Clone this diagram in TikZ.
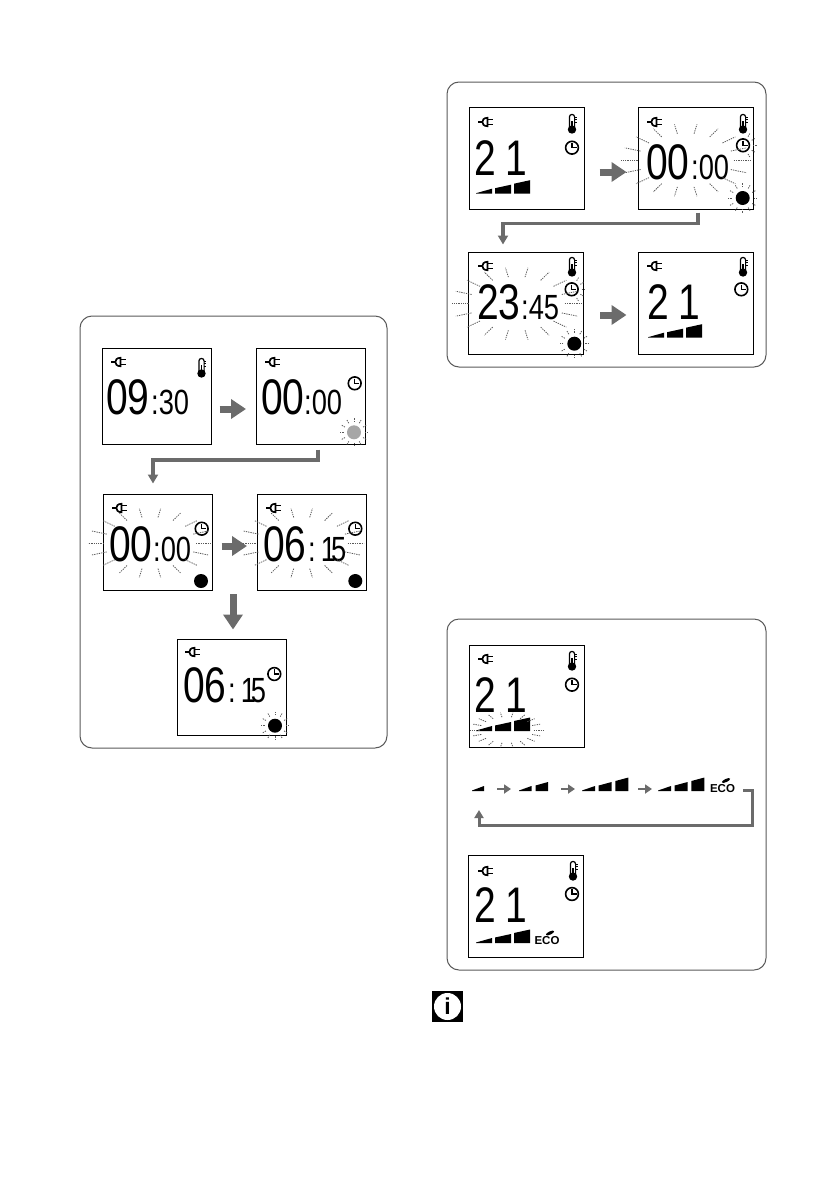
\documentclass[tikz,border=0pt]{standalone}
\usepackage{xcolor}
\usepackage{fontspec}
\usetikzlibrary{arrows.meta,positioning}
\setmainfont{Liberation Sans}
\newfontfamily\lcdfont[FakeStretch=0.78]{Liberation Sans}
\definecolor{arrowgray}{gray}{0.42}
\definecolor{framegray}{gray}{0.35}

% one wedge-shaped power bar per step
\newcommand{\lcdbars}[5]{%
  \foreach \n/\ha/\hb in {0/0.5/5,1/5.5/9,2/10/13.5}{%
    \ifnum\n<#5\relax
      \fill ({#1+\n*(#3+#4)},#2) -- ++(#3,0) -- ++(0,-\hb) -- ({#1+\n*(#3+#4)},{#2-\ha}) -- cycle;
    \fi
  }%
}
% blinking rays on an ellipse
\newcommand{\lcdglow}[5]{%
  \foreach \a in {#5}{%
    \draw[rayline] ({#1+#3*cos(\a)},{#2+#4*sin(\a)}) -- ({#1+1.35*#3*cos(\a)},{#2+1.35*#4*sin(\a)});
  }%
}

\begin{document}
\begin{tikzpicture}[
    x=1pt,y=-1pt,
    >=Stealth,
    panelbox/.style={draw=framegray,line width=1pt,rounded corners=12pt},
    screena/.style={draw,line width=1pt,minimum width=109pt,minimum height=96pt,inner sep=0pt},
    screenb/.style={draw,line width=1pt,minimum width=115pt,minimum height=102pt,inner sep=0pt},
    lcdbig/.style={anchor=base west,inner sep=0pt,font=\lcdfont\fontsize{50}{50}\selectfont},
    lcdsmall/.style={anchor=base west,inner sep=0pt,font=\lcdfont\fontsize{35}{35}\selectfont},
    ecotext/.style={inner sep=0pt,font=\bfseries\fontsize{11.5}{11.5}\selectfont},
    rayline/.style={draw=black!65,line width=0.8pt,dash pattern=on 1.3pt off 1pt},
    fatarrow/.style={draw=arrowgray,line width=7pt,-{Triangle[length=15pt,width=19pt]}},
    elbowarrow/.style={draw=arrowgray,line width=3.5pt,-{Triangle[length=9pt,width=10pt]}},
    smallarrow/.style={draw=arrowgray,line width=2.8pt,-{Triangle[length=7pt,width=9pt]}},
    cyclearrow/.style={draw=arrowgray,line width=3pt,-{Triangle[length=8pt,width=9pt]}},
    lcddot/.style={circle,fill=black,minimum size=14pt,inner sep=0pt},
    plug/.pic={
        \draw[line width=1.2pt] (0,0) -- (3.5,0);
        \draw[line width=1.7pt,fill=white] (9.5,-4.2) .. controls (2.5,-4.2) and (2.5,4.2) .. (9.5,4.2) -- cycle;
        \draw[line width=1.6pt] (9.5,-2.6) -- (15,-2.6) (9.5,2.6) -- (15,2.6);
    },
    therm/.pic={
        \draw[line width=1.2pt,fill=white] (-2.6,-2) -- (-2.6,-12.5) arc[start angle=180,end angle=360,radius=2.6] -- (2.6,-2);
        \fill (0,0) circle[radius=4.2];
        \draw[line width=1.5pt] (0,0) -- (0,-9);
        \draw[line width=0.8pt] (2.6,-12.5) -- (4.6,-12.5) (2.6,-10) -- (4.6,-10) (2.6,-7.5) -- (4.6,-7.5);
    },
    lcdclock/.pic={
        \draw[line width=1.6pt] (0,0) circle[radius=6.4];
        \draw[line width=1.3pt] (0,-4.6) -- (0,0) -- (4.6,0);
    }
]
\useasboundingbox (0,0) rectangle (839,1191);

% left panel
\draw[panelbox] (80,316) rectangle (387,748);
\node[screena] (scrA) at (156.5,396) {};
\node[screena] (scrB) at (311,396) {};
\node[screena] (scrC) at (157.5,542) {};
\node[screena] (scrD) at (312,542) {};
\node[screena] (scrE) at (231.5,687) {};

\pic at (111,362) {plug};
\pic at (265,362) {plug};
\pic at (112,508) {plug};
\pic at (266,508) {plug};
\pic at (185,652) {plug};
\pic at (201.5,373.5) {therm};
\pic at (354.7,383.3) {lcdclock};
\pic at (201.7,528.7) {lcdclock};
\pic at (355.3,528.7) {lcdclock};
\pic at (274.3,674) {lcdclock};

\node[lcdbig] (timeA) at (106,414) {09};
\node[lcdsmall] (timeAb) at (151,414) {:30};
\node[lcdbig] (timeB) at (261,414) {00};
\node[lcdsmall] (timeBb) at (304,414) {:00};
\node[lcdbig] (timeC) at (109,561) {00};
\node[lcdsmall] (timeCb) at (153,561) {:00};
\node[lcdbig] (timeD) at (263,561) {06};
\node[lcdsmall] (timeDb) at (308,561) {:\kern5pt 1\kern-5pt 5};
\node[lcdbig] (timeE) at (183,702) {06};
\node[lcdsmall] (timeEb) at (228,702) {:\kern5pt 1\kern-5pt 5};

\node[lcddot,fill=black!35] (dotB) at (354,432.3) {};
\node[lcddot] (dotC) at (201,581) {};
\node[lcddot] (dotD) at (355.3,581) {};
\node[lcddot] (dotE) at (275,725.7) {};

\lcdglow{150}{543}{46}{26}{0,20,...,340}
\lcdglow{301.7}{543}{46}{26}{0,20,...,340}
\lcdglow{354}{432.3}{10.5}{10.5}{0,30,...,330}
\lcdglow{275}{725.7}{10.5}{10.5}{0,30,...,330}

\draw[fatarrow,shorten <=8pt,shorten >=10pt] ([yshift=-13pt]scrA.east) -- ([yshift=-13pt]scrB.west);
\draw[elbowarrow,shorten <=5pt] ([xshift=7pt]scrB.south) -- ++(0,15.5) -| ([xshift=-4.5pt,yshift=10pt]scrC.north);
\draw[fatarrow,shorten <=9pt,shorten >=10pt] ([yshift=-4pt]scrC.east) -- ([yshift=-4pt]scrD.west);
\coordinate (downStart) at (233,594);
\draw[fatarrow] (downStart) -- ([xshift=1.5pt,yshift=9pt]scrE.north);

% upper right panel
\draw[panelbox] (447,82) rectangle (766,367);
\node[screenb] (scrF) at (526.5,158) {};
\node[screenb] (scrG) at (695.5,158) {};
\node[screenb] (scrH) at (526,303) {};
\node[screenb] (scrI) at (695.5,303) {};

\pic at (478,122) {plug};
\pic at (647,122) {plug};
\pic at (478,266) {plug};
\pic at (647,266) {plug};
\pic at (572,129.5) {therm};
\pic at (743,129.5) {therm};
\pic at (572,272.5) {therm};
\pic at (743,272.5) {therm};
\pic at (572,147.7) {lcdclock};
\pic at (743,145.3) {lcdclock};
\pic at (571.7,289.3) {lcdclock};
\pic at (741.3,289.3) {lcdclock};

\node[lcdbig] (tempF) at (474,175) {2\kern10pt 1};
\node[lcdbig] (timeG) at (646,179) {00};
\node[lcdsmall] (timeGb) at (691,179) {:00};
\node[lcdbig] (timeH) at (477,319) {23};
\node[lcdsmall] (timeHb) at (521,319) {:45};
\node[lcdbig] (tempI) at (647,319) {2\kern10pt 1};
\lcdbars{476}{193.7}{16}{3}{3}
\lcdbars{648}{337.7}{16}{3}{3}

\node[lcddot] (dotG) at (742.7,198) {};
\node[lcddot] (dotH) at (574.3,343.7) {};

\lcdglow{685.7}{160.3}{48}{27}{0,20,...,340}
\lcdglow{516.7}{303.7}{48}{27}{0,20,...,340}
\lcdglow{742.7}{198}{11}{11}{0,30,...,330}
\lcdglow{574.3}{343.7}{11}{11}{0,30,...,330}
\lcdglow{743}{145.3}{10}{10}{-60,-30,...,60}
\lcdglow{571.7}{289.3}{10}{10}{-60,-30,...,60}

\draw[fatarrow,shorten <=15pt,shorten >=11pt] ([yshift=-14pt]scrF.east) -- ([yshift=-14pt]scrG.west);
\draw[elbowarrow,shorten <=3pt] ([xshift=2.5pt]scrG.south) -- ++(0,14) -| ([xshift=-23pt,yshift=7pt]scrH.north);
\draw[fatarrow,shorten <=16pt,shorten >=11pt] ([yshift=-12pt]scrH.east) -- ([yshift=-12pt]scrI.west);

% lower right panel
\draw[panelbox] (447,619) rectangle (766,970);
\node[screenb] (scrJ) at (526.5,696) {};
\node[screenb] (scrK) at (526,906.5) {};

\pic at (478,659) {plug};
\pic at (478,871) {plug};
\pic at (572,666.5) {therm};
\pic at (573,876.5) {therm};
\pic at (572,684.7) {lcdclock};
\pic at (572,894) {lcdclock};

\node[lcdbig] (tempJ) at (474,712) {2\kern10pt 1};
\node[lcdbig] (tempK) at (474,922) {2\kern10pt 1};
\lcdbars{476}{731}{16}{3}{3}
\lcdbars{476}{943}{16}{3}{3}
\lcdglow{506.7}{730}{27}{13}{0,20,...,340}

% bar sequence
\lcdbars{472}{791}{12}{4}{1}
\lcdbars{519}{791}{12.5}{4}{2}
\lcdbars{582}{791}{13}{3.7}{3}
\lcdbars{658}{791}{13}{3.7}{3}
\node[ecotext] (ecoRow) at (722.5,788.5) {ECO};
\fill[rotate around={25:(726,780.5)}] (726,780.5) ellipse[x radius=4.5,y radius=1.6];
\node[ecotext] (ecoK) at (547,941) {ECO};
\fill[rotate around={25:(550,933)}] (550,933) ellipse[x radius=4.5,y radius=1.6];

\coordinate (stepA) at (497,789);
\coordinate (stepB) at (511,789);
\coordinate (stepC) at (561,789);
\coordinate (stepD) at (575,789);
\coordinate (stepE) at (638,789);
\coordinate (stepF) at (652,789);
\coordinate (cycleEnd) at (479,810);
\draw[smallarrow] (stepA) -- (stepB);
\draw[smallarrow] (stepC) -- (stepD);
\draw[smallarrow] (stepE) -- (stepF);
\draw[cyclearrow] ([xshift=8pt,yshift=-1.5pt]ecoRow.east) -- ++(9,0) -- ++(0,35) -| (cycleEnd);

% info mark
\node[fill=black,minimum size=31pt,inner sep=0pt] (infoBox) at (447.5,1006.5) {};
\node[circle,fill=white,minimum size=27pt,inner sep=0pt,font=\bfseries\fontsize{23}{23}\selectfont] (infoDisc) at (infoBox) {i};

\end{tikzpicture}
\end{document}
